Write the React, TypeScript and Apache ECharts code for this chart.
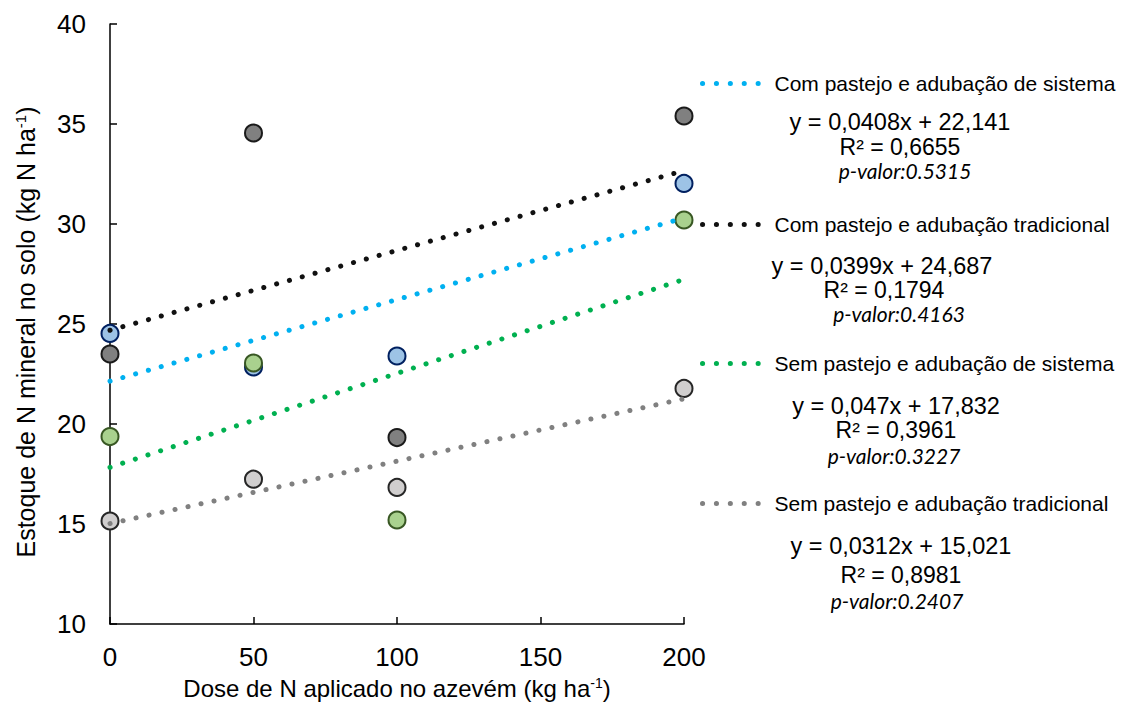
import React, { useEffect, useRef } from "react";
import * as echarts from "echarts";

const doses = [0, 50, 100, 200];
const seriesNames = [
  "Com pastejo e adubação de sistema",
  "Com pastejo e adubação tradicional",
  "Sem pastejo e adubação de sistema",
  "Sem pastejo e adubação tradicional",
];
const comSistema = [24.53, 22.85, 23.4, 32.03];
const comTradicional = [23.5, 34.55, 19.32, 35.4];
const semSistema = [19.37, 23.05, 15.2, 30.2];
const semTradicional = [15.15, 17.24, 16.83, 21.78];
const slopes = [0.0408, 0.0399, 0.047, 0.0312];
const intercepts = [22.141, 24.687, 17.832, 15.021];
const slopeLabels = ["0,0408", "0,0399", "0,047", "0,0312"];
const interceptLabels = ["22,141", "24,687", "17,832", "15,021"];
const r2Labels = ["0,6655", "0,1794", "0,3961", "0,8981"];
const pLabels = ["0.5315", "0.4163", "0.3227", "0.2407"];

const observed = [comSistema, comTradicional, semSistema, semTradicional];

// styles
const markerFill = ["#9DC3E6", "#808080", "#A9D18E", "#D0CECE"];
const markerBorder = ["#002060", "#1a1a1a", "#385723", "#262626"];
const trendColor = ["#00B0F0", "#111111", "#00B050", "#808080"];
const drawOrder = [0, 1, 3, 2];

// layout for annotation blocks
const legendY = [80, 221, 360, 500];
const eqPos = [[900, 122], [882, 266], [896, 406], [901, 546]];
const r2Pos = [[900, 147], [884, 290], [896, 430], [901, 575]];
const pPos = [[905, 170], [899, 313], [894, 455], [897, 600]];

const FONT = "'Liberation Sans', Arial, sans-serif";

export default function App() {
  const ref = useRef<HTMLDivElement>(null);
  useEffect(() => {
    if (!ref.current) return;
    const chart = echarts.init(ref.current, null, { renderer: "svg" });

    const scatterSeries = drawOrder.map((i) => ({
      type: "scatter",
      name: seriesNames[i] + " (observado)",
      data: doses.map((d, k) => [d, observed[i][k]]),
      symbol: "circle",
      symbolSize: 17,
      itemStyle: { color: markerFill[i], borderColor: markerBorder[i], borderWidth: 2, opacity: 1 },
      z: 2,
      silent: true,
    }));

    const trendSeries = seriesNames.map((name, i) => ({
      type: "line",
      name,
      data: [
        [0, intercepts[i]],
        [200, intercepts[i] + slopes[i] * 200],
      ],
      showSymbol: false,
      symbol: "none",
      color: trendColor[i],
      itemStyle: { color: trendColor[i] },
      lineStyle: { color: trendColor[i], width: 5, type: [0.1, 13.2], cap: "round" },
      z: 3,
      silent: true,
    }));

    const legends = seriesNames.map((name, i) => ({
      data: [name],
      left: 695,
      top: legendY[i] - 12,
      itemWidth: 62,
      itemHeight: 8,
      selectedMode: false,
      itemStyle: { opacity: 0 },
      lineStyle: { width: 5, type: [0.1, 13.8], cap: "round", color: trendColor[i] },
      textStyle: { fontSize: 21, color: "#000", fontFamily: FONT, padding: [0, 0, 0, 5] },
    }));

    const textStyleBase = {
      fill: "#000",
      align: "center",
      verticalAlign: "middle",
      textAlign: "center",
      textVerticalAlign: "middle",
    };

    const graphics: any[] = [
      {
        type: "text",
        x: 26,
        y: 332,
        rotation: Math.PI / 2,
        style: {
          ...textStyleBase,
          text: "Estoque de N mineral no solo (kg N ha{sup|-1})",
          fontSize: 25,
          lineHeight: 26,
          fontFamily: FONT,
          rich: {
            sup: { fontSize: 15, verticalAlign: "top", lineHeight: 26, fill: "#000", fontFamily: FONT },
          },
        },
      },
    ];
    seriesNames.forEach((_, i) => {
      graphics.push({
        type: "text",
        x: eqPos[i][0],
        y: eqPos[i][1],
        style: {
          ...textStyleBase,
          text: `y = ${slopeLabels[i]}x + ${interceptLabels[i]}`,
          fontSize: 23.5,
          lineHeight: 22,
          fontFamily: FONT,
        },
      });
      graphics.push({
        type: "text",
        x: r2Pos[i][0],
        y: r2Pos[i][1],
        style: {
          ...textStyleBase,
          text: `R² = ${r2Labels[i]}`,
          fontSize: 23,
          lineHeight: 21,
          fontFamily: FONT,
        },
      });
      graphics.push({
        type: "text",
        x: pPos[i][0],
        y: pPos[i][1],
        style: {
          ...textStyleBase,
          text: `p-valor:${pLabels[i]}`,
          fontSize: 21,
          lineHeight: 19,
          fontStyle: "italic",
          fontFamily: "Lato, 'Noto Sans', sans-serif",
        },
      });
    });

    chart.setOption({
      animation: false,
      backgroundColor: "#fff",
      grid: { left: 110, top: 24, width: 574, height: 600, containLabel: false },
      xAxis: {
        type: "value",
        min: 0,
        max: 200,
        interval: 50,
        name: "Dose de N aplicado no azevém (kg ha{sup|-1})",
        nameLocation: "middle",
        nameGap: 52,
        nameTextStyle: {
          fontSize: 24,
          color: "#000",
          fontFamily: FONT,
          rich: { sup: { fontSize: 14, verticalAlign: "top", color: "#000", fontFamily: FONT } },
        },
        axisLine: { show: true, lineStyle: { color: "#000", width: 1.5 } },
        axisTick: { show: true, inside: true, length: 7, lineStyle: { color: "#000", width: 1.5 } },
        axisLabel: { fontSize: 26, color: "#000", fontFamily: FONT, margin: 20 },
        splitLine: { show: false },
      },
      yAxis: {
        type: "value",
        min: 10,
        max: 40,
        interval: 5,
        axisLine: { show: true, lineStyle: { color: "#000", width: 1.5 } },
        axisTick: { show: true, inside: true, length: 7, lineStyle: { color: "#000", width: 1.5 } },
        axisLabel: { fontSize: 26, color: "#000", fontFamily: FONT, margin: 24 },
        splitLine: { show: false },
      },
      legend: legends,
      graphic: graphics,
      series: [...scatterSeries, ...trendSeries],
    });
    return () => chart.dispose();
  }, []);
  return <div ref={ref} style={{ position: "fixed", left: 0, top: 0, width: 1131, height: 711 }} />;
}
